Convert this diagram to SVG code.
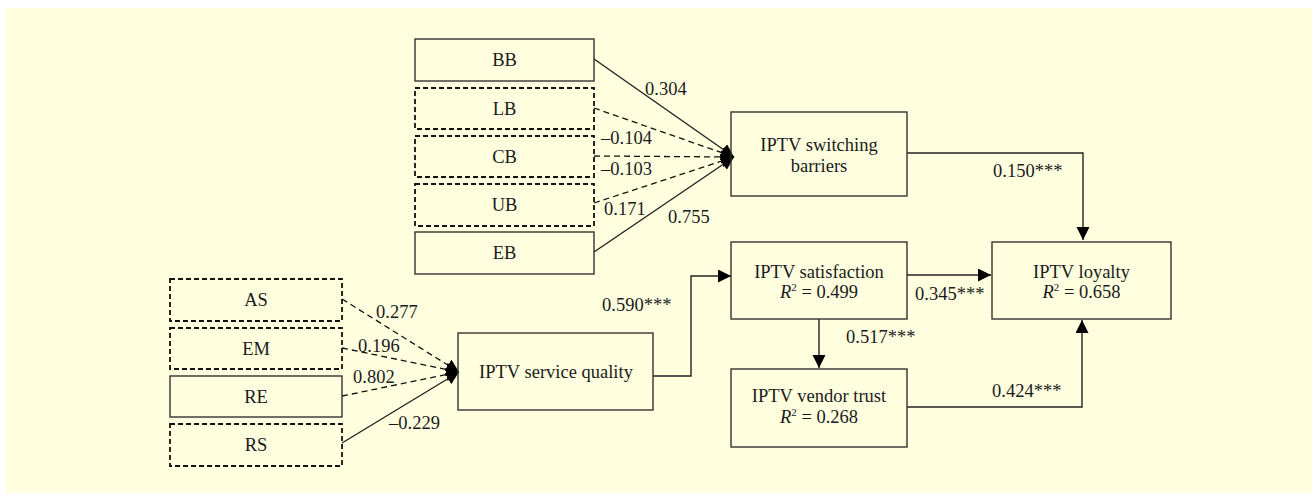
<svg xmlns="http://www.w3.org/2000/svg" width="1312" height="493" viewBox="0 0 1312 493">
<defs>
<marker id="ah" markerUnits="userSpaceOnUse" markerWidth="15" markerHeight="15" refX="13" refY="6.5" orient="auto">
<path d="M0,0 L13,6.5 L0,13 z" fill="#000"/>
</marker>
<style>
.box{fill:none;stroke:#333;stroke-width:1.4}
.dbox{fill:none;stroke:#111;stroke-width:1.8;stroke-dasharray:5,3}
.ln{fill:none;stroke:#222;stroke-width:1.4}
.dl{fill:none;stroke:#111;stroke-width:1.3;stroke-dasharray:6,4}
text{font-family:"Liberation Serif","Times New Roman",serif;font-size:18.5px;fill:#1a1a1a}
.c{text-anchor:middle}
</style>
</defs>
<rect x="6" y="8" width="1306" height="485" fill="#FFFFE0"/>
<g id="connectors">
<line class="ln" x1="594" y1="59" x2="734" y2="157" marker-end="url(#ah)"/>
<line class="dl" x1="594" y1="108" x2="734" y2="157" marker-end="url(#ah)"/>
<line class="dl" x1="594" y1="156" x2="734" y2="157" marker-end="url(#ah)"/>
<line class="dl" x1="594" y1="203" x2="734" y2="157" marker-end="url(#ah)"/>
<line class="ln" x1="594" y1="252" x2="734" y2="157" marker-end="url(#ah)"/>
<line class="dl" x1="342" y1="299" x2="459" y2="372" marker-end="url(#ah)"/>
<line class="dl" x1="342" y1="348" x2="459" y2="372" marker-end="url(#ah)"/>
<line class="dl" x1="342" y1="396" x2="459" y2="372" marker-end="url(#ah)"/>
<line class="ln" x1="342" y1="443" x2="459" y2="372" marker-end="url(#ah)"/>
<polyline class="ln" points="653,376 691,376 691,276 731,276" marker-end="url(#ah)"/>
<polyline class="ln" points="907,153 1083,153 1083,240" marker-end="url(#ah)"/>
<line class="ln" x1="907" y1="275" x2="991" y2="275" marker-end="url(#ah)"/>
<line class="ln" x1="819" y1="319" x2="819" y2="368" marker-end="url(#ah)"/>
<polyline class="ln" points="907,407 1082,407 1082,320" marker-end="url(#ah)"/>
<text x="645" y="95">0.304</text>
<text x="601" y="144">–0.104</text>
<text x="601" y="175">–0.103</text>
<text x="604" y="215">0.171</text>
<text x="668" y="223">0.755</text>
<text x="376" y="318">0.277</text>
<text x="358" y="352">0.196</text>
<text x="353" y="383">0.802</text>
<text x="389" y="429">–0.229</text>
<text x="602" y="311">0.590***</text>
<text x="993" y="177">0.150***</text>
<text x="915" y="300">0.345***</text>
<text x="846" y="343">0.517***</text>
<text x="992" y="397">0.424***</text>
</g>
<g id="BB"><rect class="box" x="415" y="39" width="179" height="42"/><text class="c" x="504.5" y="66">BB</text></g>
<g id="LB"><rect class="dbox" x="415" y="88" width="179" height="41"/><text class="c" x="504.5" y="115">LB</text></g>
<g id="CB"><rect class="dbox" x="415" y="136" width="179" height="41"/><text class="c" x="504.5" y="163">CB</text></g>
<g id="UB"><rect class="dbox" x="415" y="184" width="179" height="42"/><text class="c" x="504.5" y="211">UB</text></g>
<g id="EB"><rect class="box" x="415" y="232" width="179" height="42"/><text class="c" x="504.5" y="259">EB</text></g>
<g id="AS"><rect class="dbox" x="170" y="279" width="172" height="42"/><text class="c" x="256" y="306">AS</text></g>
<g id="EM"><rect class="dbox" x="170" y="328" width="172" height="41"/><text class="c" x="256" y="355">EM</text></g>
<g id="RE"><rect class="box" x="170" y="376" width="172" height="41"/><text class="c" x="256" y="403">RE</text></g>
<g id="RS"><rect class="dbox" x="170" y="424" width="172" height="42"/><text class="c" x="256" y="451">RS</text></g>
<g id="switching"><rect class="box" x="731" y="112" width="176" height="84"/><text class="c" x="819" y="151">IPTV switching</text><text class="c" x="819" y="172">barriers</text></g>
<g id="quality"><rect class="box" x="458" y="333" width="195" height="77"/><text class="c" x="556" y="378">IPTV service quality</text></g>
<g id="satisfaction"><rect class="box" x="731" y="242" width="176" height="77"/><text class="c" x="819" y="278">IPTV satisfaction</text><text class="c" x="819" y="298"><tspan font-style="italic">R</tspan><tspan font-size="11" dy="-7">2</tspan><tspan dy="7"> = 0.499</tspan></text></g>
<g id="trust"><rect class="box" x="731" y="369" width="176" height="78"/><text class="c" x="819" y="402">IPTV vendor trust</text><text class="c" x="819" y="423"><tspan font-style="italic">R</tspan><tspan font-size="11" dy="-7">2</tspan><tspan dy="7"> = 0.268</tspan></text></g>
<g id="loyalty"><rect class="box" x="992" y="242" width="179" height="77"/><text class="c" x="1081.5" y="278">IPTV loyalty</text><text class="c" x="1081.5" y="298"><tspan font-style="italic">R</tspan><tspan font-size="11" dy="-7">2</tspan><tspan dy="7"> = 0.658</tspan></text></g>
</svg>
